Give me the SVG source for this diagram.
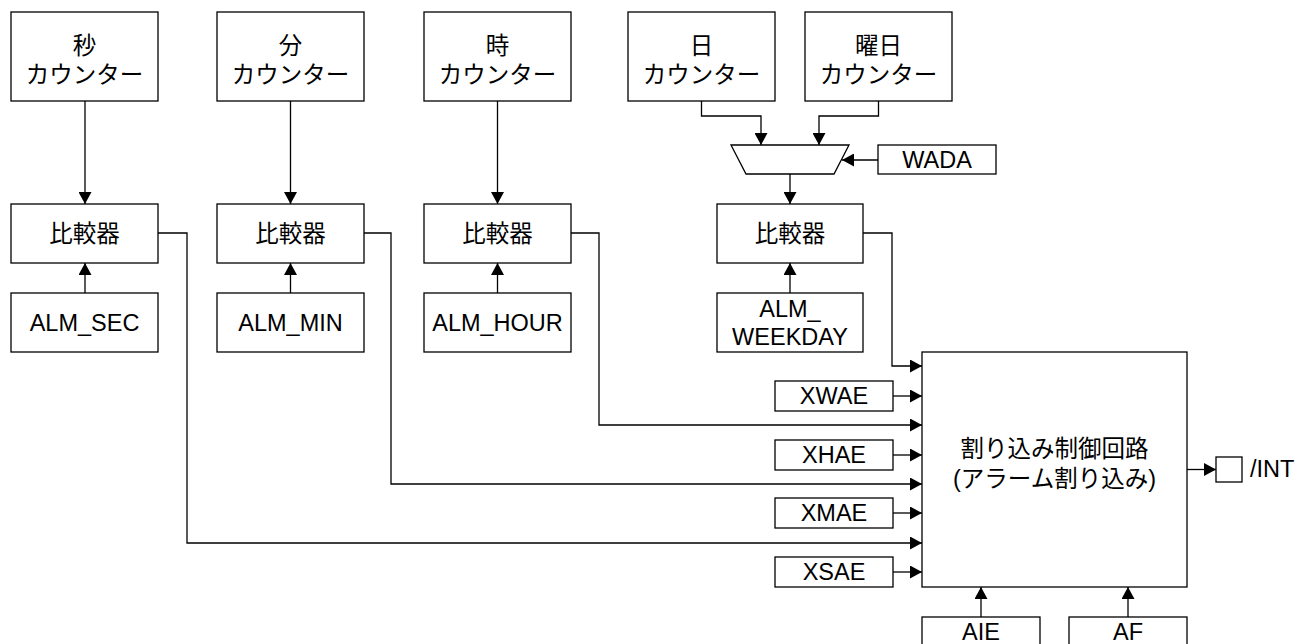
<svg xmlns="http://www.w3.org/2000/svg" width="1295" height="644" viewBox="0 0 1295 644">
<style>
.b{fill:#fff;stroke:#000;stroke-width:1.3}
.t{font-family:"Liberation Sans","Noto Sans CJK JP",sans-serif;font-size:23.5px;fill:#000;text-anchor:middle}
.l{fill:none;stroke:#000;stroke-width:1.3;marker-end:url(#ah)}
</style>
<defs>
<marker id="ah" markerUnits="userSpaceOnUse" markerWidth="12" markerHeight="13" refX="12" refY="6.5" orient="auto">
<path d="M0,0 L12,6.5 L0,13 z" fill="#000"/>
</marker>
</defs>
<rect width="1295" height="644" fill="#fff"/>
<g id="cnt-sec"><rect class="b" x="11" y="12" width="147" height="89"/><text class="t" x="84.5" y="54">秒</text><text class="t" x="84.5" y="83">カウンター</text></g>
<g id="cnt-min"><rect class="b" x="217" y="12" width="147" height="89"/><text class="t" x="290.5" y="54">分</text><text class="t" x="290.5" y="83">カウンター</text></g>
<g id="cnt-hour"><rect class="b" x="424" y="12" width="147" height="89"/><text class="t" x="497.5" y="54">時</text><text class="t" x="497.5" y="83">カウンター</text></g>
<g id="cnt-day"><rect class="b" x="628" y="12" width="147" height="89"/><text class="t" x="701.5" y="54">日</text><text class="t" x="701.5" y="83">カウンター</text></g>
<g id="cnt-wday"><rect class="b" x="805" y="12" width="147" height="89"/><text class="t" x="878.5" y="54">曜日</text><text class="t" x="878.5" y="83">カウンター</text></g>
<g id="mux"><path class="b" d="M731,145 L849,145 L834,174 L746,174 Z"/></g>
<g id="wada"><rect class="b" x="878" y="145" width="118" height="29"/><text class="t" x="937" y="168">WADA</text></g>
<g id="cmp-sec"><rect class="b" x="11" y="204" width="147" height="59"/><text class="t" x="84.5" y="242">比較器</text></g>
<g id="cmp-min"><rect class="b" x="217" y="204" width="147" height="59"/><text class="t" x="290.5" y="242">比較器</text></g>
<g id="cmp-hour"><rect class="b" x="424" y="204" width="147" height="59"/><text class="t" x="497.5" y="242">比較器</text></g>
<g id="cmp-wday"><rect class="b" x="717" y="204" width="146" height="59"/><text class="t" x="790" y="242">比較器</text></g>
<g id="alm-sec"><rect class="b" x="11" y="293" width="147" height="59"/><text class="t" x="84.5" y="331">ALM_SEC</text></g>
<g id="alm-min"><rect class="b" x="217" y="293" width="147" height="59"/><text class="t" x="290.5" y="331">ALM_MIN</text></g>
<g id="alm-hour"><rect class="b" x="424" y="293" width="147" height="59"/><text class="t" x="497.5" y="331">ALM_HOUR</text></g>
<g id="alm-wday"><rect class="b" x="717" y="293" width="146" height="59"/><text class="t" x="790" y="317">ALM_</text><text class="t" x="790" y="345">WEEKDAY</text></g>
<g id="xwae"><rect class="b" x="775" y="381" width="118" height="30"/><text class="t" x="834" y="404">XWAE</text></g>
<g id="xhae"><rect class="b" x="775" y="440" width="118" height="30"/><text class="t" x="834" y="463">XHAE</text></g>
<g id="xmae"><rect class="b" x="775" y="498" width="118" height="30"/><text class="t" x="834" y="521">XMAE</text></g>
<g id="xsae"><rect class="b" x="775" y="557" width="118" height="30"/><text class="t" x="834" y="580">XSAE</text></g>
<g id="ctrl"><rect class="b" x="922" y="352" width="265" height="235"/><text class="t" x="1054.5" y="457">割り込み制御回路</text><text class="t" x="1054.5" y="487">(アラーム割り込み)</text></g>
<g id="int"><rect class="b" x="1216" y="457" width="26" height="25"/><text class="t" x="1250" y="477" style="text-anchor:start">/INT</text></g>
<g id="aie"><rect class="b" x="922" y="617" width="118" height="32"/><text class="t" x="981" y="640">AIE</text></g>
<g id="af"><rect class="b" x="1069" y="617" width="118" height="32"/><text class="t" x="1128" y="640">AF</text></g>
<g id="connectors">
<path class="l" d="M85,101 V204"/>
<path class="l" d="M290.5,101 V204"/>
<path class="l" d="M497.5,101 V204"/>
<path class="l" d="M701.5,101 V116 H761 V145"/>
<path class="l" d="M878.5,101 V116 H819 V145"/>
<path class="l" d="M878,160 H842"/>
<path class="l" d="M790,174 V204"/>
<path class="l" d="M85,293 V263"/>
<path class="l" d="M290.5,293 V263"/>
<path class="l" d="M497.5,293 V263"/>
<path class="l" d="M790,293 V263"/>
<path class="l" d="M863,233 H892 V366 H922"/>
<path class="l" d="M571,233 H599 V425 H922"/>
<path class="l" d="M364,233 H391 V484 H922"/>
<path class="l" d="M158,233 H187 V543 H922"/>
<path class="l" d="M893,396 H922"/>
<path class="l" d="M893,455 H922"/>
<path class="l" d="M893,513 H922"/>
<path class="l" d="M893,572 H922"/>
<path class="l" d="M1187,469.5 H1216"/>
<path class="l" d="M981,617 V587"/>
<path class="l" d="M1128,617 V587"/>
</g>
</svg>
